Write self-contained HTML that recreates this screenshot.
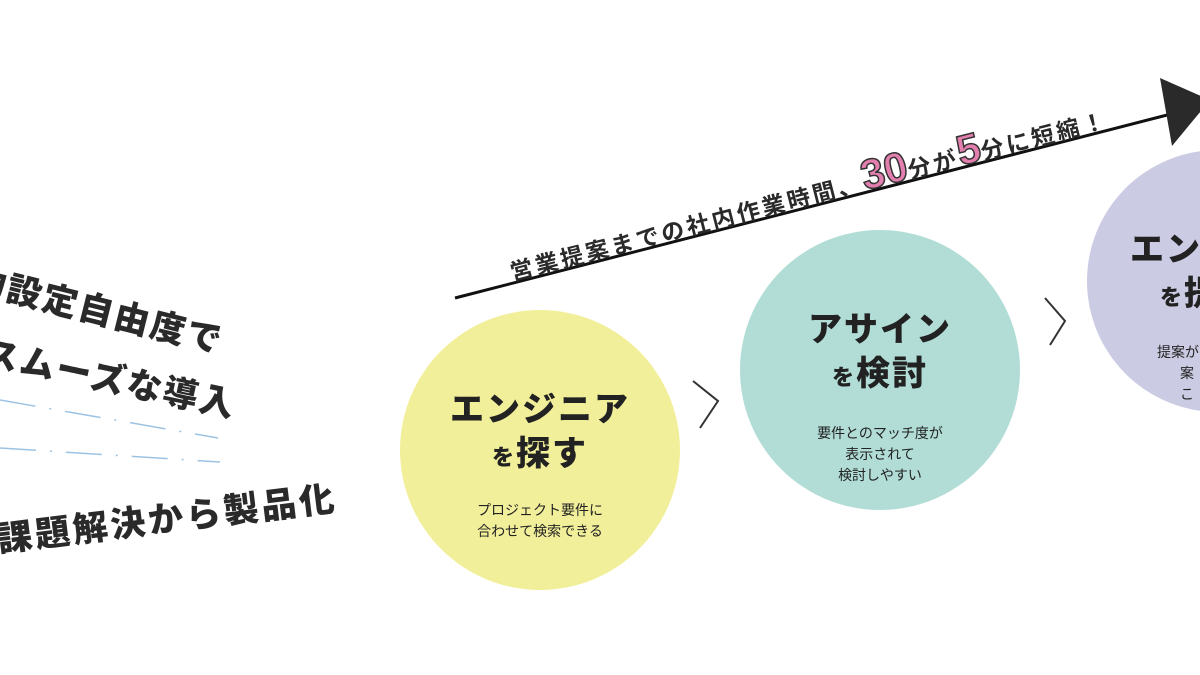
<!DOCTYPE html>
<html><head><meta charset="utf-8"><style>
html,body{margin:0;padding:0;background:#fff;}
#c{position:relative;width:1200px;height:675px;overflow:hidden;background:#fff;font-family:"Liberation Sans","Noto Sans CJK JP",sans-serif;color:#222;}
.circ{position:absolute;border-radius:50%;}
.t{position:absolute;white-space:nowrap;}
.big{font-weight:900;font-size:34px;letter-spacing:2px;text-align:center;}
.small{font-size:14px;text-align:center;line-height:21px;}
.rot{position:absolute;white-space:nowrap;font-weight:900;font-size:35px;color:#2a2a2a;transform-origin:0 0;letter-spacing:2px;}
</style></head><body><div id="c">
<div class="circ" style="left:400px;top:310px;width:280px;height:280px;background:#f2ef9b;"></div>
<div class="circ" style="left:740px;top:230px;width:280px;height:280px;background:#b1ddd6;"></div>
<div class="circ" style="left:1087px;top:150px;width:262px;height:262px;background:#cccbe4;"></div>

<div class="t big" style="left:400px;width:280px;top:382px;">エンジニア</div>
<div class="t big" style="left:400px;width:280px;top:426px;"><span style="font-size:22px">を</span>探す</div>
<div class="t small" style="left:400px;width:280px;top:500px;">プロジェクト要件に<br>合わせて検索できる</div>

<div class="t big" style="left:740px;width:280px;top:302px;">アサイン</div>
<div class="t big" style="left:740px;width:280px;top:346px;"><span style="font-size:22px">を</span>検討</div>
<div class="t small" style="left:740px;width:280px;top:423px;">要件とのマッチ度が<br>表示されて<br>検討しやすい</div>

<div class="t big" style="left:1130px;top:222px;text-align:left;">エンジ</div>
<div class="t big" style="left:1160px;top:266px;text-align:left;"><span style="font-size:22px">を</span>提</div>
<div class="t small" style="left:1157px;top:342px;text-align:left;">提案が</div>
<div class="t small" style="left:1180px;top:363px;text-align:left;">案</div>
<div class="t small" style="left:1180px;top:384px;text-align:left;">こ</div>

<svg width="1200" height="675" style="position:absolute;left:0;top:0">
<line x1="455" y1="298" x2="1175" y2="113" stroke="#111" stroke-width="3"/>
<polygon points="1160,78 1210,100 1172,146" fill="#2a2a2a"/>
<polyline points="693,381 718,401 700,428" fill="none" stroke="#333" stroke-width="2"/>
<polyline points="1045,298 1065,321 1050,345" fill="none" stroke="#333" stroke-width="2"/>
<line x1="0" y1="400" x2="218" y2="438" stroke="#9cc3e3" stroke-width="1.5" stroke-dasharray="36,14,2,14"/>
<line x1="0" y1="448" x2="220" y2="462" stroke="#9cc3e3" stroke-width="1.5" stroke-dasharray="36,14,2,14"/>
</svg>

<div class="rot" style="left:503px;top:244px;font-size:23px;font-weight:700;transform:rotate(-14.4deg);letter-spacing:3px;">営業提案までの社内作業時間、<span style="font-size:42px;color:#e27fae;-webkit-text-stroke:1.5px #333;font-weight:900;letter-spacing:0;">30</span>分が<span style="font-size:42px;color:#e27fae;-webkit-text-stroke:1.5px #333;font-weight:900;letter-spacing:0;">5</span>分に短縮！</div>

<div class="rot" style="left:-22px;top:252px;transform:rotate(14deg);">約設定自由度で</div>
<div class="rot" style="left:-10px;top:325px;transform:rotate(12deg);">スムーズな導入</div>
<div class="rot" style="left:-6px;top:512px;transform:rotate(-7deg);letter-spacing:3px;">課題解決から製品化</div>
</div></body></html>
